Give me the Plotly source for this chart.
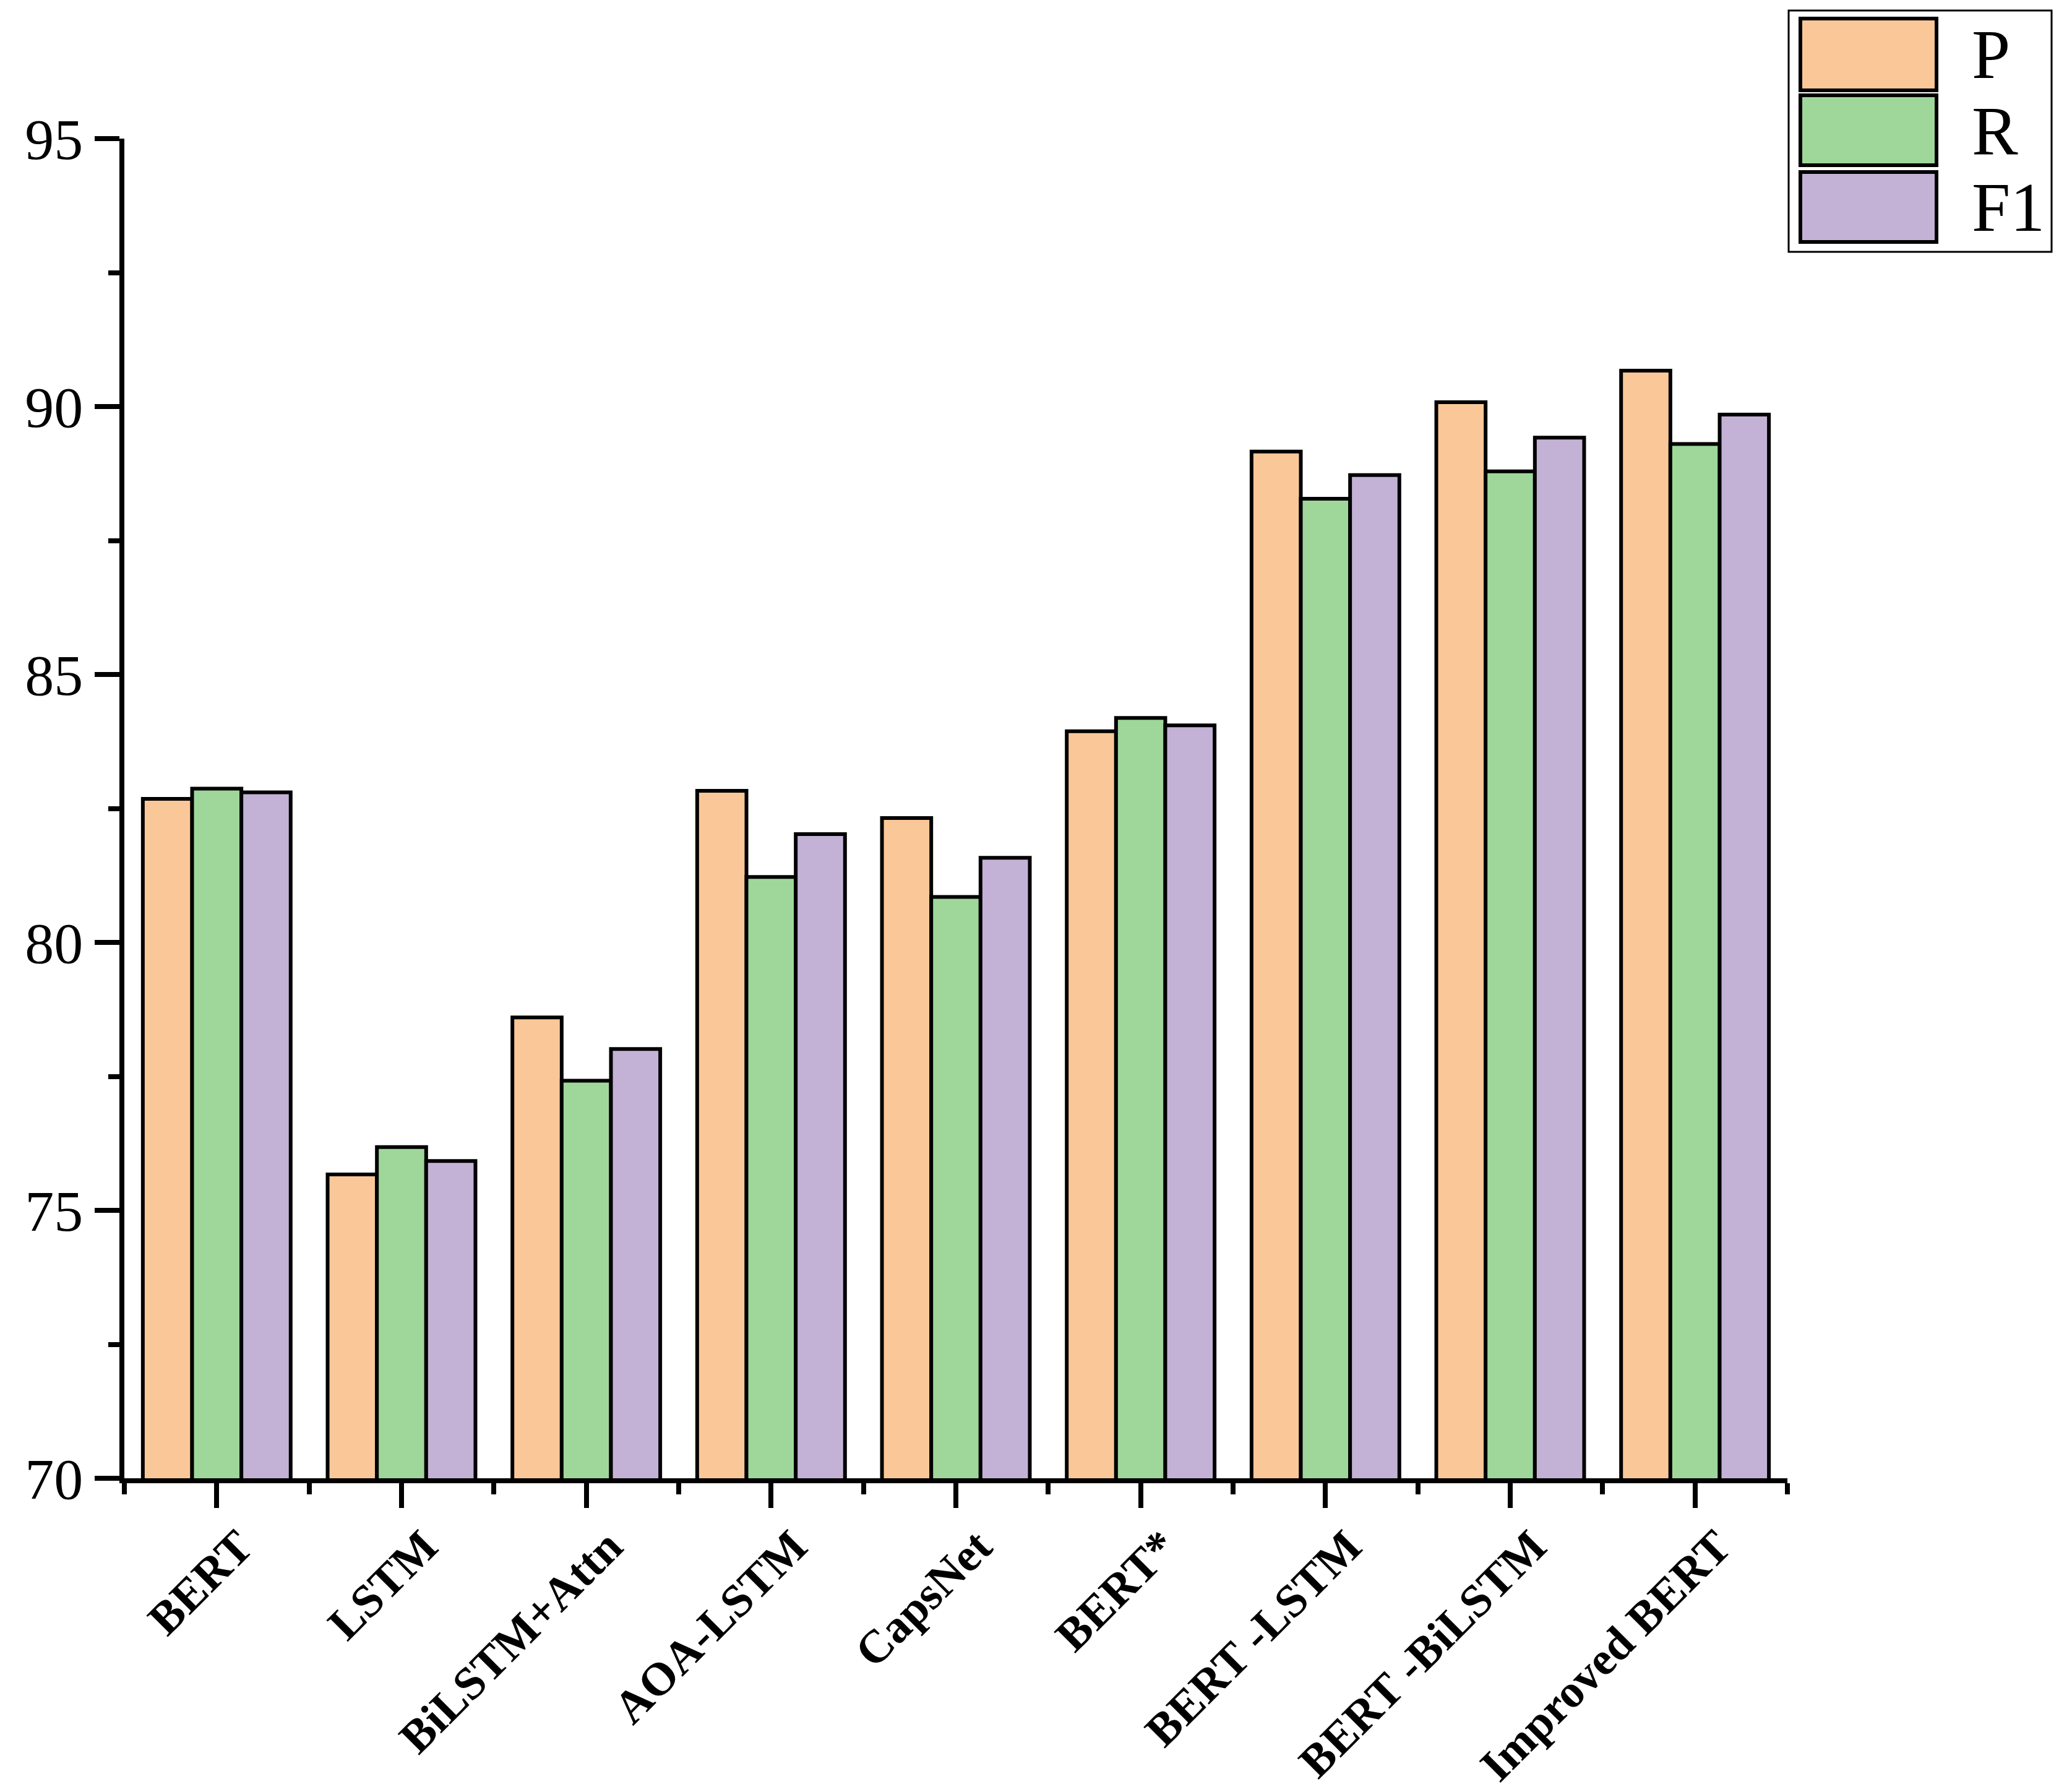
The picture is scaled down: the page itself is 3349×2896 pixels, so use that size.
import plotly.graph_objects as go

categories = ["BERT", "LSTM", "BiLSTM+Attn", "AOA-LSTM", "CapsNet", "BERT*",
              "BERT -LSTM", "BERT -BiLSTM", "Improved BERT"]
P_vals = [82.68, 75.67, 78.60, 82.83, 82.32, 83.94, 89.16, 90.08, 90.67]
R_vals = [82.87, 76.18, 77.42, 81.22, 80.85, 84.19, 88.28, 88.79, 89.30]
F1_vals = [82.80, 75.92, 78.01, 82.02, 81.58, 84.05, 88.72, 89.42, 89.85]
series_names = ["P", "R", "F1"]
series_colors = ["#FAC898", "#9FD79B", "#C3B2D6"]

W, H = 3349, 2896
L, R, T, B = 201, 460, 224, 507
FONT = "Liberation Serif, Times New Roman, serif"

xpos = list(range(len(categories)))

fig = go.Figure()
for name, vals, col in zip(series_names, [P_vals, R_vals, F1_vals], series_colors):
    fig.add_trace(go.Bar(
        x=xpos, y=vals, name=name,
        marker=dict(color=col, line=dict(color="black", width=6)),
        showlegend=False,
    ))

fig.update_layout(
    width=W, height=H,
    margin=dict(l=L, r=R, t=T, b=B, pad=0, autoexpand=False),
    paper_bgcolor="white", plot_bgcolor="white",
    barmode="group", bargap=0.2, bargroupgap=0,
    font=dict(family=FONT, color="black"),
)

fig.update_xaxes(
    range=[-0.5, len(categories) - 0.5],
    tickmode="array", tickvals=xpos, ticktext=categories,
    tickangle=-45, automargin=False,
    tickfont=dict(family=FONT, size=75, color="black", weight="bold"),
    showline=True, linecolor="black", linewidth=8,
    ticks="outside", ticklen=40, tickwidth=8, tickcolor="black",
    minor=dict(tickmode="array", tickvals=[i - 0.5 for i in range(len(categories) + 1)],
               ticks="outside", ticklen=18, tickwidth=8, tickcolor="black"),
    showgrid=False, zeroline=False,
    ticklabelshift=36, ticklabelstandoff=-12,
)

fig.update_yaxes(
    range=[70, 95], tick0=70, dtick=5, automargin=False,
    tickfont=dict(family=FONT, size=94, color="black"),
    showline=True, linecolor="black", linewidth=8,
    ticks="outside", ticklen=40, tickwidth=8, tickcolor="black",
    minor=dict(dtick=2.5, tick0=70, ticks="outside", ticklen=18, tickwidth=8, tickcolor="black"),
    showgrid=False, zeroline=False,
    ticklabelstandoff=0,
)

# Manual legend (large swatches as in the original)
pw = W - L - R
ph = H - T - B
def px_x(p):
    return (p - L) / pw
def px_y(p):
    return (H - B - p) / ph

fig.add_shape(type="rect", xref="paper", yref="paper",
              x0=px_x(2891), x1=px_x(3316), y0=px_y(407), y1=px_y(17),
              line=dict(color="black", width=3), fillcolor="white", layer="above")
rows = [(30, 146), (154, 267), (278, 391)]
for (top, bot), name, col in zip(rows, series_names, series_colors):
    fig.add_shape(type="rect", xref="paper", yref="paper",
                  x0=px_x(2910), x1=px_x(3130), y0=px_y(bot), y1=px_y(top),
                  line=dict(color="black", width=6), fillcolor=col, layer="above")
    fig.add_annotation(xref="paper", yref="paper", x=px_x(3185), y=px_y((top + bot) / 2),
                       text=name, showarrow=False, xanchor="left", yanchor="middle",
                       font=dict(family=FONT, size=112, color="black"))

fig.write_html("out.html", config={"displayModeBar": False},
               post_script="document.body.style.margin='0';document.body.style.padding='0';")
